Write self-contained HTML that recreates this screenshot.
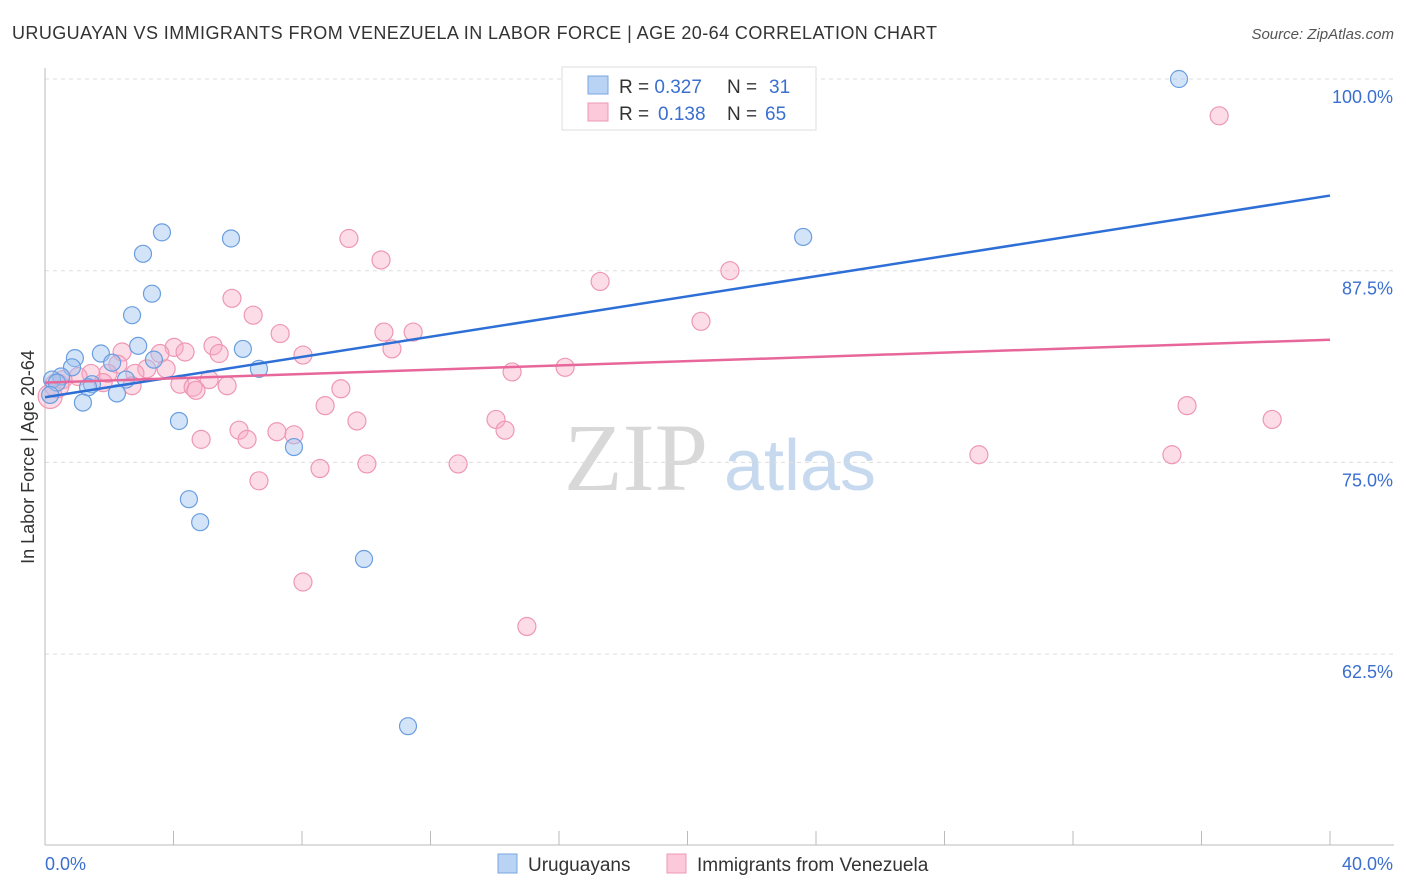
<!DOCTYPE html>
<html><head><meta charset="utf-8"><style>
body{margin:0;background:#fff;font-family:"Liberation Sans",sans-serif;}
#wrap{position:relative;width:1406px;height:892px;overflow:hidden;}
</style></head><body>
<div id="wrap">
<svg id="svg" width="1406" height="892" xmlns="http://www.w3.org/2000/svg">
<text x="12" y="39" font-size="18" fill="#333" textLength="925">URUGUAYAN VS IMMIGRANTS FROM VENEZUELA IN LABOR FORCE | AGE 20-64 CORRELATION CHART</text>
<text x="1394" y="39" font-size="15" fill="#555" font-style="italic" text-anchor="end">Source: ZipAtlas.com</text>
<text x="636" y="490" font-size="96" fill="#d8d8d8" font-family="Liberation Serif,serif" text-anchor="middle">ZIP</text>
<text x="800" y="490" font-size="72" fill="#c7d9ee" text-anchor="middle">atlas</text>
<text transform="translate(34,457) rotate(-90)" font-size="18" fill="#333" text-anchor="middle">In Labor Force | Age 20-64</text>
<g id="grid"></g><g id="pts"></g><g id="lines"></g>
<g>
<rect x="562" y="67" width="254" height="63" fill="#fff" stroke="#ddd"/>
<rect x="588" y="76" width="20" height="18" fill="#b9d3f5" stroke="#7aa6e0"/>
<rect x="588" y="103" width="20" height="18" fill="#fbc9d9" stroke="#ee97b5"/>
<text x="619" y="93" font-size="19" fill="#333">R = <tspan fill="#3a6fd0">0.327</tspan><tspan x="727">N = </tspan><tspan x="769" fill="#3a6fd0">31</tspan></text>
<text x="619" y="120" font-size="19" fill="#333">R = <tspan x="658" fill="#3a6fd0">0.138</tspan><tspan x="727">N = </tspan><tspan x="765" fill="#3a6fd0">65</tspan></text>
</g>
<g>
<rect x="498" y="854" width="19" height="19" fill="#b9d3f5" stroke="#7aa6e0"/>
<text x="528" y="871" font-size="19" fill="#333">Uruguayans</text>
<rect x="667" y="854" width="19" height="19" fill="#fbc9d9" stroke="#ee97b5"/>
<text x="697" y="871" font-size="19" fill="#333">Immigrants from Venezuela</text>
</g>
</svg>
</div>
<script>
const yTicks=[100,87.5,75,62.5];
const yTickLabels=["100.0%","87.5%","75.0%","62.5%"];
const xTickLabels=["0.0%","40.0%"];
const blueX=[35.3,23.6,3.64,5.79,3.05,3.33,2.71,2.90,6.16,1.74,0.93,3.39,2.09,6.66,0.84,0.50,0.22,0.37,2.52,1.46,1.34,2.24,1.18,0.16,4.17,7.75,4.48,4.83,9.93,11.3];
const blueY=[100,89.7,90.0,89.6,88.6,86.0,84.6,82.6,82.4,82.1,81.8,81.7,81.5,81.1,81.2,80.6,80.4,80.2,80.4,80.1,79.9,79.5,78.9,79.4,77.7,76.0,72.6,71.1,68.7,57.8];
const pinkX=[21.95,36.55,9.46,10.46,17.28,21.32,5.82,6.48,7.32,20.42,10.55,11.46,10.80,4.02,5.23,3.58,4.36,5.42,8.03,2.40,2.27,3.17,3.77,16.19,14.54,2.80,1.96,5.11,1.43,1.03,0.56,4.20,4.61,5.67,4.70,2.71,1.81,9.21,8.72,35.55,38.2,14.04,9.71,14.32,6.04,7.22,7.75,4.86,6.29,29.07,35.08,8.56,10.02,12.86,6.66,8.03,15.0,0.16,0.37];
const pinkY=[100,97.6,89.6,88.2,86.8,87.5,85.7,84.6,83.4,84.2,83.5,83.5,82.4,82.5,82.6,82.1,82.2,82.1,82.0,82.2,81.4,81.1,81.1,81.2,80.9,80.8,80.8,80.4,80.8,80.6,80.4,80.1,79.9,80.0,79.7,80.0,80.2,79.8,78.7,78.7,77.8,77.8,77.7,77.1,77.1,77.0,76.8,76.5,76.5,75.5,75.5,74.6,74.9,74.9,73.8,67.2,64.3,79.3,80.0];
const trendBlue=[79.25,92.4];
const trendPink=[80.2,83.0];
const NS="http://www.w3.org/2000/svg";
const X0=45,X1=1330,Y100=79,PX=191.7/12.5;
function sx(v){return X0+(v/40)*(X1-X0);}
function sy(v){return Y100+(100-v)*PX;}
function mk(t,a,p){const e=document.createElementNS(NS,t);for(const k in a)e.setAttribute(k,a[k]);p.appendChild(e);return e;}
const grid=document.getElementById('grid');
yTicks.forEach((t,i)=>{
 const l=mk('line',{x1:45,x2:1394,y1:sy(t),y2:sy(t),stroke:'#ddd','stroke-dasharray':'4,4'},grid);
 
 
 const tx=mk('text',{x:1393,y:sy(t)+24,'font-size':18,fill:'#3a6fd0','text-anchor':'end'},grid);
 tx.textContent=yTickLabels[i];
 
 
});
const ax=mk('line',{x1:45,x2:45,y1:68,y2:845,stroke:'#bbb'},grid);


const bx=mk('line',{x1:45,x2:1394,y1:845,y2:845,stroke:'#bbb'},grid);


for(let i=0;i<=10;i++){const x=sx(i*4);const tk=mk('line',{x1:x,x2:x,y1:831,y2:845,stroke:'#bbb'},grid);
 
 }
[[0,'start',45],[40,'end',1393]].forEach((d,i)=>{const t=mk('text',{x:d[2],y:870,'font-size':18,fill:'#3a6fd0','text-anchor':d[1]},grid);t.textContent=xTickLabels[i];
 
 });
const pts=document.getElementById('pts');
pinkX.forEach((x,i)=>{const c=mk('circle',{cx:sx(x),cy:sy(pinkY[i]),r:(i>=57?12:9),fill:'rgba(248,170,196,0.4)',stroke:'#ee97b5','stroke-width':1.2},pts);
 
 });
blueX.forEach((x,i)=>{const c=mk('circle',{cx:sx(x),cy:sy(blueY[i]),r:8.5,fill:'rgba(160,196,240,0.45)',stroke:'#6a9ee0','stroke-width':1.2},pts);
 
 });
const lines=document.getElementById('lines');
const lb=mk('line',{x1:sx(0),y1:sy(trendBlue[0]),x2:sx(40),y2:sy(trendBlue[1]),stroke:'#2d6fd6','stroke-width':2.5},lines);


const lp=mk('line',{x1:sx(0),y1:sy(trendPink[0]),x2:sx(40),y2:sy(trendPink[1]),stroke:'#e8679a','stroke-width':2.5},lines);


</script>
</body></html>
